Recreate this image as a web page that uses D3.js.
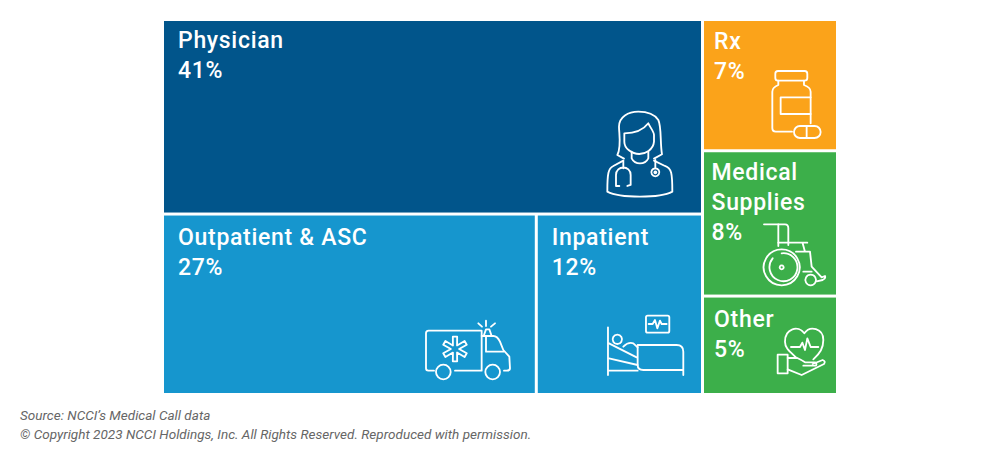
<!DOCTYPE html>
<html><head><meta charset="utf-8">
<script src="https://cdn.jsdelivr.net/npm/d3@7"></script>
<style>html,body{margin:0;padding:0;background:#fff}svg{display:block}</style></head>
<body><svg id="c" width="1000" height="460"></svg>
<script>
const categories = ["Physician","Outpatient & ASC","Inpatient","Rx","Medical Supplies","Other"];
const shares = [41,27,12,7,8,5];
const tileWeights = [41.5,26.65,11.85,7,7.75,5.25];
const colors = ["#01558B","#1696CE","#1696CE","#FBA31A","#3CAF4A","#3CAF4A"];
const sourceLines = ["Source: NCCI’s Medical Call data","© Copyright 2023 NCCI Holdings, Inc. All Rights Reserved. Reproduced with permission."];

const leaf = i => ({name:categories[i],share:shares[i],value:tileWeights[i],color:colors[i],i});
const tree = {dir:"h",children:[
  {dir:"v",children:[leaf(0),{dir:"h",children:[leaf(1),leaf(2)]}]},
  {dir:"v",children:[leaf(3),leaf(4),leaf(5)]}
]};
const tile = (n,x0,y0,x1,y1)=> (n.data.dir==="h"?d3.treemapDice:d3.treemapSlice)(n,x0,y0,x1,y1);
const root = d3.treemap().tile(tile).size([672,372]).paddingInner(3).round(false)(
  d3.hierarchy(tree).sum(d=>d.value||0));

const svg = d3.select("#c");
const g = svg.append("g").attr("transform","translate(164,21)");
const leaves = root.leaves();
g.selectAll("rect.t").data(leaves).join("rect").attr("class","t")
  .attr("x",d=>d.x0).attr("y",d=>d.y0).attr("width",d=>d.x1-d.x0).attr("height",d=>d.y1-d.y0)
  .attr("fill",d=>d.data.color);

const font = "Roboto, sans-serif";
const textDx = {0:14,1:14,2:14,3:10,4:7.5,5:10};
const textDy = {0:27,1:29.5,2:29.5,3:27.5,4:28,5:29};
leaves.forEach(d=>{
  const words = d.data.name==="Medical Supplies"?["Medical","Supplies"]:[d.data.name];
  const lines = [...words, d.data.share+"%"];
  lines.forEach((t,k)=>{
    g.append("text").attr("x",d.x0+textDx[d.data.i]).attr("y",d.y0+textDy[d.data.i]+k*30)
     .attr("font-family",font).attr("font-weight",500).attr("font-size",23)
     .attr("letter-spacing",0.7).attr("fill","#fff").text(t);
  });
});

function star(cx,cy,w,L){
  const pts=[];
  for(let k=0;k<6;k++){
    const a=k*Math.PI/3-Math.PI/2, ux=Math.cos(a),uy=Math.sin(a),vx=-uy,vy=ux;
    pts.push([cx+ux*L-vx*w/2,cy+uy*L-vy*w/2]);
    pts.push([cx+ux*L+vx*w/2,cy+uy*L+vy*w/2]);
    const b=a+Math.PI/6; const r=w*0.95;
    pts.push([cx+Math.cos(b)*r,cy+Math.sin(b)*r]);
  }
  return "M"+pts.map(p=>p.join(",")).join("L")+"Z";
}
const icons = {
 0:{o:[580,10],p:[
  "M112,435C125,410 117,370 117,350C117,320 145,305 175,305C205,305 225,315 235,330C245,350 240,400 246,433L222,446M112,435L132,446",
  "M133,370C165,370 190,360 205,340C212,355 222,365 222,375L222,395C220,420 195,432 178,432C155,432 133,415 133,395Z",
  "M155,425L155,445C165,465 195,465 205,445L205,425",
  "M130,452L100,468C85,475 82,490 82,545C120,565 240,565 277,545C277,490 275,475 255,468L222,452",
  "M130,452L130,475M118,528L108,528L108,495C108,465 152,465 152,495L152,525L142,528",
  "M226,450L226,475","M226,475a12,12 0 1,0 0.1,0Z","M226,484a3,3 0 1,0 0.1,0Z"]},
 3:{o:[580,10],p:[
  "M594,183L674,183Q682,183 682,191L682,204Q682,212 674,212L594,212Q586,212 586,204L586,191Q586,183 594,183Z",
  "M595,212L595,225Q577,232 577,245L577,355Q577,365 587,365L636,365",
  "M672,212L672,225Q692,232 692,245L692,340",
  "M692,262L602,262L602,312L692,312",
  "M660,348L704,348A18,18 0 0 1 704,384L660,384A18,18 0 0 1 660,348ZM680,348L680,384"]},
 4:{o:[690,200],p:[
  "M222,73L285,73Q295,73 295,85L295,135",
  "M265,73Q265,75 265,85L265,138",
  "M265,128L352,128M338,130L345,155M318,155L360,155L365,200L395,232L405,228Q408,236 398,240L380,244",
  "M340,215L365,215",
  "M275,148a54,54 0 1,0 0.1,0Z",
  "M248,175A42,42 0 1,0 275,160",
  "M275,196a6,6 0 1,0 0.1,0Z",
  "M362,224a16,16 0 1,0 0.1,0Z"]},
 5:{o:[690,200],p:[
  "M318,472C300,455 285,445 285,425C285,385 325,375 343,400C360,375 400,385 400,420C400,445 390,460 370,478",
  "M303,441L330,441L337,428L345,450L352,415L362,441L385,441",
  "M263,464L293,464L293,520L263,520Z",
  "M293,474L322,474Q335,480 345,487L375,487Q382,490 378,497L340,497",
  "M293,508L335,525L402,492Q408,484 398,480L368,492"]},
 1:{o:[410,300],p:[
  "M72,212L55,212Q48,212 48,205L48,100Q48,92 56,92L215,92L215,212L135,212",
  "M215,108L250,108Q262,108 270,125L280,150L298,170L300,205Q300,212 290,212L282,212",
  "M228,108L228,155L280,155",
  "M78,216a22,22 0 1,0 44,0a22,22 0 1,0 -44,0Z",
  "M226,216a22,22 0 1,0 44,0a22,22 0 1,0 -44,0Z",
  "M222,105L228,88L238,88L244,105",
  "M228,62L228,78M205,70L216,80M255,70L243,80",
  star(135,147,13,37)]},
 2:{o:[410,300],p:[
  "M594,82L594,225M594,212L683,212",
  "M683,135L800,135Q820,135 820,155L820,225M820,210L700,210Q683,210 683,195L683,135",
  "M622,104a14,14 0 1,0 0.1,0Z",
  "M597,130L680,172M597,175L683,195",
  "M640,140Q655,125 670,130L683,142",
  "M713,47L773,47Q778,47 778,52L778,93Q778,98 773,98L713,98Q708,98 708,93L708,52Q708,47 713,47Z",
  "M716,72L728,72L735,60L742,85L750,62L755,72L770,72"]}
};
leaves.forEach(d=>{
  const ic=icons[d.data.i];
  const ig=svg.append("g").attr("transform",`translate(${ic.o[0]},${ic.o[1]}) scale(0.3333)`);
  ic.p.forEach(s=>ig.append("path").attr("d",s).attr("fill","none").attr("stroke","#fff")
    .attr("stroke-width",5.5).attr("stroke-linecap","round").attr("stroke-linejoin","round"));
});

svg.selectAll("text.src").data(sourceLines).join("text").attr("class","src")
  .attr("x",20).attr("y",(d,i)=>420+i*19)
  .attr("font-family",font).attr("font-style","italic").attr("font-size",13.5)
  .attr("letter-spacing",0.02).attr("fill","#666").text(d=>d);
</script></body></html>
